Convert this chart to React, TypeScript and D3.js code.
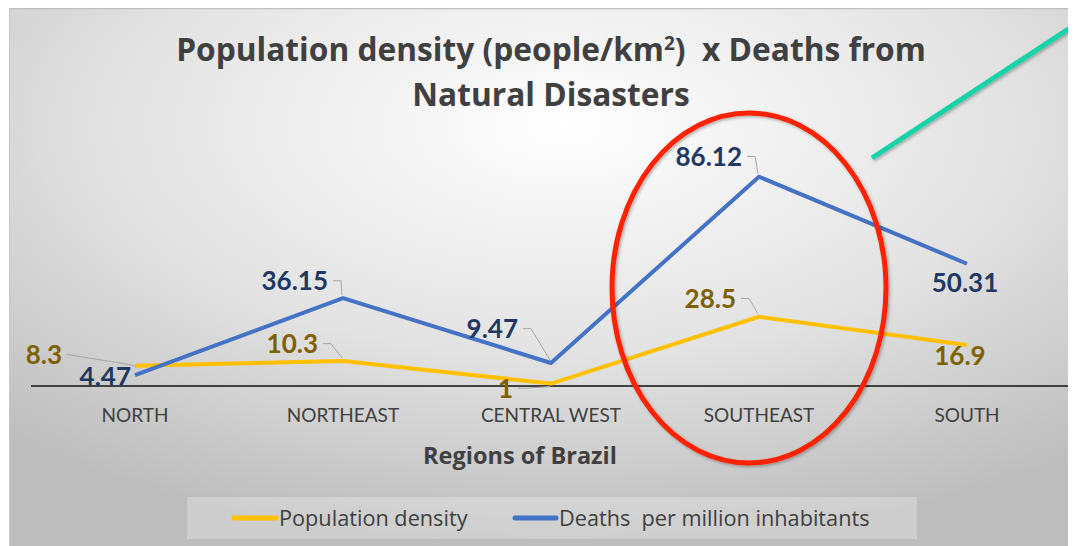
import React from "react";
import * as d3 from "d3";

const categories = ["NORTH", "NORTHEAST", "CENTRAL WEST", "SOUTHEAST", "SOUTH"];
const populationDensity = [8.3, 10.3, 1, 28.5, 16.9];
const deathsPerMillion = [4.47, 36.15, 9.47, 86.12, 50.31];
const popLabels = ["8.3", "10.3", "1", "28.5", "16.9"];
const deathLabels = ["4.47", "36.15", "9.47", "86.12", "50.31"];
const seriesNames = ["Population density", "Deaths  per million inhabitants"];

// label placement relative to the data point
type LP = { dx: number; dy: number; anchor: string; leader: boolean };
const popLabelPos: LP[] = [
  { dx: -73, dy: -2, anchor: "end", leader: true },
  { dx: -25, dy: -8, anchor: "end", leader: true },
  { dx: -38, dy: 14, anchor: "end", leader: true },
  { dx: -23, dy: -9, anchor: "end", leader: true },
  { dx: -7, dy: 20, anchor: "middle", leader: false },
];
const deathLabelPos: LP[] = [
  { dx: -4, dy: 11, anchor: "end", leader: false },
  { dx: -15, dy: -8, anchor: "end", leader: true },
  { dx: -33, dy: -25, anchor: "end", leader: true },
  { dx: -17, dy: -11, anchor: "end", leader: true },
  { dx: -2, dy: 28, anchor: "middle", leader: false },
];

const FONT = "Lato, 'Open Sans', sans-serif";
const FONT2 = "'Open Sans', Lato, sans-serif";
const YELLOW = "#ffc000";
const BLUE = "#4472c4";
const GOLD_TXT = "#7f6000";
const NAVY_TXT = "#1f3864";

export default function App() {
  const W = 1068;
  const H = 538;
  const x = d3.scalePoint<string>().domain(categories).range([135, 967]);
  const y = d3.scaleLinear().domain([0, 90]).range([386, 386 - 90 * 2.43]);
  const line = d3
    .line<number>()
    .x((_, i) => x(categories[i]) as number)
    .y((d) => y(d));

  const labelFont = 26;
  const renderLabels = (vals: number[], labels: string[], pos: LP[], color: string) =>
    vals.map((v, i) => {
      const px = x(categories[i]) as number;
      const py = y(v);
      const p = pos[i];
      const tx = px + p.dx;
      const ty = py + p.dy;
      const cy = ty - labelFont * 0.36;
      let leader = null;
      if (p.leader) {
        const sx = tx + 5;
        const pts: [number, number][] =
          Math.abs(p.dx) > 50
            ? [[sx, cy], [px - 10, py - 2], [px, py]]
            : [[sx, cy], [sx + 8, cy], [px - 1, py + (py > cy ? -3 : 3)]];
        leader = (
          <path d={d3.line()(pts) as string} fill="none" stroke="#a6a6a6" strokeWidth={1} />
        );
      }
      return (
        <g key={i}>
          {leader}
          <text
            x={tx}
            y={ty}
            textAnchor={p.anchor as any}
            fontFamily={FONT}
            fontWeight="bold"
            fontSize={labelFont}
            fill={color}
          >
            {labels[i]}
          </text>
        </g>
      );
    });

  return (
    <svg width={W} height={H} style={{ display: "block" }}>
      <defs>
        <radialGradient id="bg" cx="0.52" cy="0.22" r="0.78" gradientUnits="objectBoundingBox" fx="0.52" fy="0.22">
          <stop offset="0" stopColor="#ffffff" />
          <stop offset="0.55" stopColor="#e2e2e2" />
          <stop offset="1" stopColor="#bdbdbd" />
        </radialGradient>
        <filter id="sh" x="-20%" y="-20%" width="140%" height="140%">
          <feDropShadow dx="1.5" dy="1.5" stdDeviation="1.5" floodColor="#000" floodOpacity="0.3" />
        </filter>
      </defs>
      <g transform="translate(-8,-8)">
        <rect x={9} y={8} width={1067} height={538} fill="url(#bg)" />
        <line x1={9} x2={1076} y1={8.5} y2={8.5} stroke="#bfbfbf" strokeWidth={1.5} />
        <line x1={9.5} x2={9.5} y1={8} y2={546} stroke="#c8c8c8" strokeWidth={1} />

        {/* title */}
        <text x={551} y={61} textAnchor="middle" fontFamily={FONT2} fontWeight="bold" fontSize={31.7} fill="#404040" style={{ whiteSpace: "pre" }}>
          Population density (people/km
          <tspan dy={-11} fontSize={19}>2</tspan>
          <tspan dy={11}>{")  x Deaths from"}</tspan>
        </text>
        <text x={551} y={106} textAnchor="middle" fontFamily={FONT2} fontWeight="bold" fontSize={31.7} fill="#404040">
          Natural Disasters
        </text>

        {/* axis */}
        <line x1={31} x2={1071} y1={y(0)} y2={y(0)} stroke="#404040" strokeWidth={2} />
        {categories.map((c) => (
          <text key={c} x={x(c)} y={422} textAnchor="middle" fontFamily={FONT} fontSize={19} fill="#404040">
            {c}
          </text>
        ))}
        <text x={520} y={464} textAnchor="middle" fontFamily={FONT2} fontWeight="bold" fontSize={23.5} fill="#404040">
          Regions of Brazil
        </text>

        {/* series */}
        <path d={line(populationDensity) as string} fill="none" stroke={YELLOW} strokeWidth={4} strokeLinejoin="round" />
        <path d={line(deathsPerMillion) as string} fill="none" stroke={BLUE} strokeWidth={4} strokeLinejoin="round" />

        {renderLabels(populationDensity, popLabels, popLabelPos, GOLD_TXT)}
        {renderLabels(deathsPerMillion, deathLabels, deathLabelPos, NAVY_TXT)}

        {/* legend */}
        <rect x={187} y={497} width={730} height={42} fill="#ffffff" fillOpacity={0.25} />
        <line x1={234} x2={276} y1={518} y2={518} stroke={YELLOW} strokeWidth={5} strokeLinecap="round" />
        <text x={279} y={525.5} fontFamily={FONT2} fontSize={21.7} fill="#404040">{seriesNames[0]}</text>
        <line x1={515} x2={556} y1={518} y2={518} stroke={BLUE} strokeWidth={5} strokeLinecap="round" />
        <text x={559} y={525.5} fontFamily={FONT2} fontSize={21.7} fill="#404040" style={{ whiteSpace: "pre" }}>{seriesNames[1]}</text>

        {/* annotations */}
        <ellipse cx={749} cy={288} rx={137} ry={175} fill="none" stroke="#ff2200" strokeWidth={5} filter="url(#sh)" />
        <line x1={872} y1={158} x2={1076} y2={24} stroke="#17d4a8" strokeWidth={5} filter="url(#sh)" />
      </g>
    </svg>
  );
}
